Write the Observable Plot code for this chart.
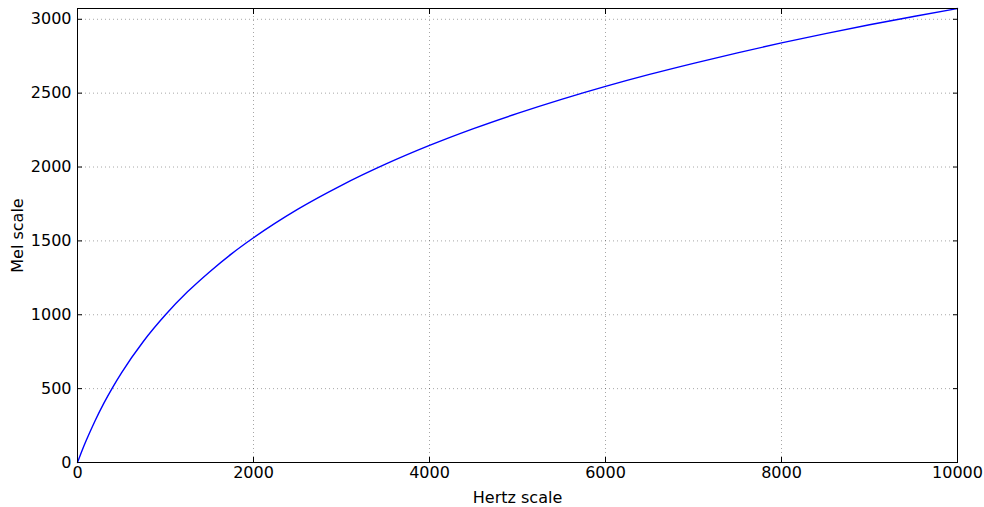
<!DOCTYPE html>
<html>
<head>
<meta charset="utf-8">
<script src="https://cdn.jsdelivr.net/npm/d3@7"></script>
<script src="https://cdn.jsdelivr.net/npm/@observablehq/plot@0.6"></script>
<style>
  html, body { margin: 0; padding: 0; background: #fff; }
  #chart svg { display: block; }
</style>
</head>
<body>
<div id="chart"></div>
<script>
// Values
const hertz = [0, 50, 100, 200, 300, 400, 500, 750, 1000, 1250, 1500, 1750, 2000, 2500, 3000, 3500, 4000, 4500, 5000, 5500, 6000, 6500, 7000, 7500, 8000, 8500, 9000, 9500, 10000];
const mel   = [0, 78, 150, 283, 402, 509, 607, 821, 1000, 1155, 1290, 1412, 1521, 1713, 1876, 2019, 2146, 2260, 2363, 2458, 2546, 2627, 2702, 2773, 2840, 2903, 2963, 3019, 3073];
const xTicks = [0, 2000, 4000, 6000, 8000, 10000];
const yTicks = [0, 500, 1000, 1500, 2000, 2500, 3000];

const data = hertz.map((h, i) => ({hz: h, mel: mel[i]}));

const font = "'DejaVu Sans', sans-serif";
const fmt = d => String(d);
const chart = Plot.plot({
  width: 984,
  height: 507,
  marginLeft: 77,
  marginRight: 27,
  marginTop: 8,
  marginBottom: 45,
  style: {fontFamily: font, fontSize: "16px", color: "#000", background: "#fff"},
  x: {domain: [0, 10000]},
  y: {domain: [0, 3073]},
  marks: [
    Plot.gridX(xTicks, {stroke: "#000", strokeOpacity: 0.35, strokeDasharray: "1,3"}),
    Plot.gridY(yTicks, {stroke: "#000", strokeOpacity: 0.35, strokeDasharray: "1,3"}),
    Plot.line(data, {x: "hz", y: "mel", stroke: "#0000ff", strokeWidth: 1.4, curve: "monotone-x"}),
    Plot.axisX(xTicks, {anchor: "bottom", tickSize: 0, tickPadding: 4, fontSize: 16, tickFormat: fmt, label: "Hertz scale", labelAnchor: "center", labelArrow: "none", labelOffset: 40}),
    Plot.axisY(yTicks, {anchor: "left", tickSize: 0, tickPadding: 6, fontSize: 16, tickFormat: fmt, label: "Mel scale", labelAnchor: "center", labelArrow: "none", labelOffset: 66}),
    Plot.axisX(xTicks, {anchor: "bottom", tickSize: -5, text: null, label: null}),
    Plot.axisX(xTicks, {anchor: "top", tickSize: -5, text: null, label: null}),
    Plot.axisY(yTicks, {anchor: "left", tickSize: -5, text: null, label: null}),
    Plot.axisY(yTicks, {anchor: "right", tickSize: -5, text: null, label: null}),
    Plot.frame({stroke: "#000", strokeWidth: 1})
  ]
});
document.getElementById("chart").appendChild(chart);
</script>
</body>
</html>
